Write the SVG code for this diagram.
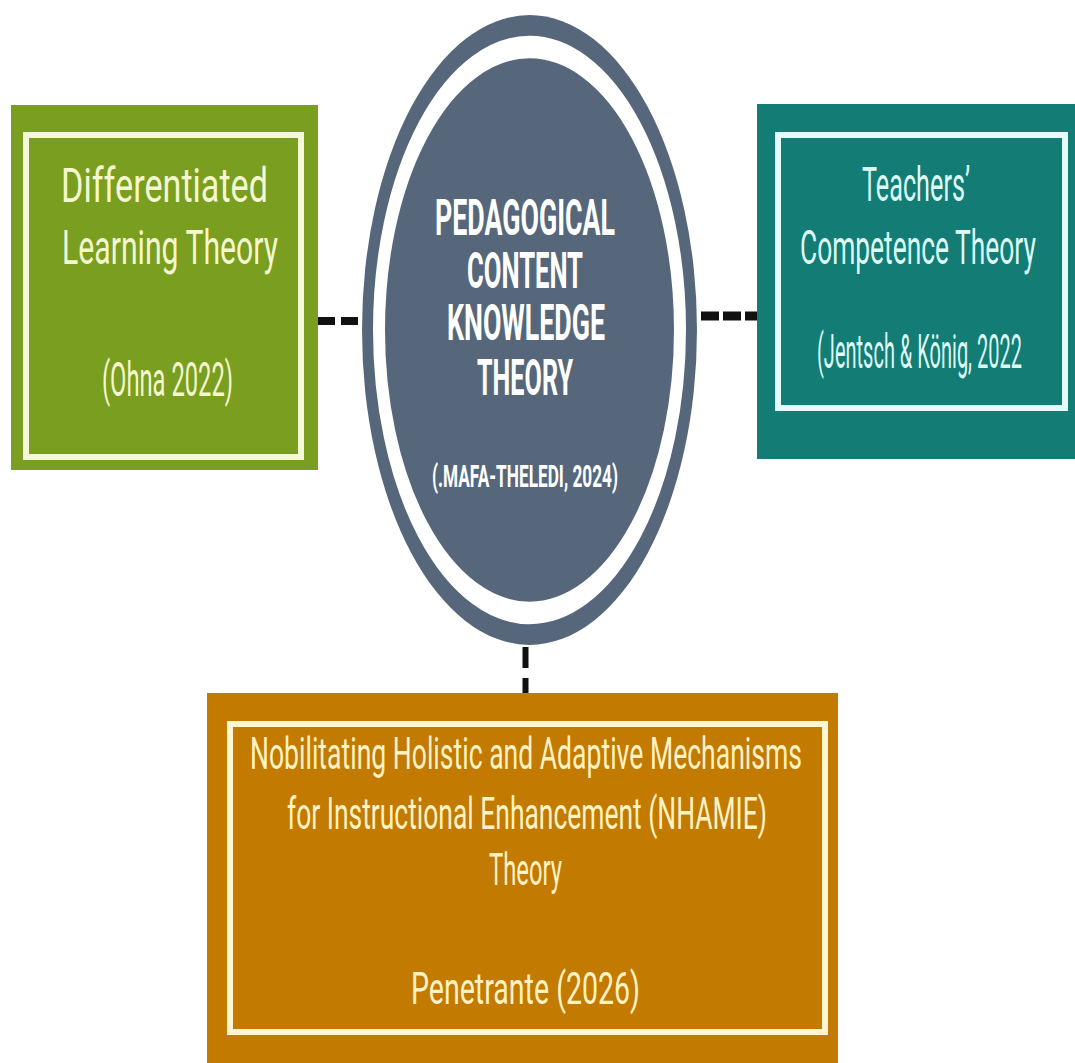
<svg xmlns="http://www.w3.org/2000/svg" width="1075" height="1063" viewBox="0 0 1075 1063">
  <style>
    .lbl { font-family: Roboto, "Liberation Sans", Arial, sans-serif; font-weight: 400; }
    .ttl { font-family: Roboto, "Liberation Sans", Arial, sans-serif; font-weight: 700; fill: #ffffff; }
    .green-t { fill: #F4F7CF; font-size: 31px; }
    .teal-t { fill: #DDFAF7; font-size: 31px; }
    .orange-t { fill: #FFF2C4; font-size: 26px; }
    .big { font-size: 26.5px; }
    .small { font-size: 17px; }
    .dash { stroke: #111111; fill: none; }
  </style>
  <rect width="1075" height="1063" fill="#ffffff"/>

  <g id="connectors">
    <line class="dash" x1="318" y1="321" x2="360" y2="321" stroke-width="8" stroke-dasharray="17 6"/>
    <line class="dash" x1="701" y1="316" x2="757" y2="316" stroke-width="9" stroke-dasharray="18 4"/>
    <line class="dash" x1="525.5" y1="647" x2="525.5" y2="693" stroke-width="6" stroke-dasharray="21 10"/>
  </g>

  <g id="node-differentiated">
    <rect x="11" y="105" width="307" height="365" fill="#7A9E1F"/>
    <rect x="26" y="135" width="275" height="322" fill="none" stroke="#F6F8DA" stroke-width="6"/>
    <text class="lbl green-t" transform="translate(61 202) scale(1 1.54)" textLength="207" lengthAdjust="spacingAndGlyphs">Differentiated</text>
    <text class="lbl green-t" transform="translate(62 264) scale(1 1.54)" textLength="216" lengthAdjust="spacingAndGlyphs">Learning Theory</text>
    <text class="lbl green-t" transform="translate(102 396) scale(1 1.54)" textLength="131" lengthAdjust="spacingAndGlyphs">(Ohna 2022)</text>
  </g>

  <g id="node-pck">
    <g transform="translate(529.5 330) scale(1 1.88)">
      <circle r="167.5" fill="#56677B"/>
      <circle r="150.5" fill="none" stroke="#ffffff" stroke-width="12"/>
    </g>
    <text class="ttl big" transform="translate(435 235) scale(1 1.86)" textLength="180" lengthAdjust="spacingAndGlyphs">PEDAGOGICAL</text>
    <text class="ttl big" transform="translate(467 288) scale(1 1.86)" textLength="116" lengthAdjust="spacingAndGlyphs">CONTENT</text>
    <text class="ttl big" transform="translate(447 340) scale(1 1.86)" textLength="158" lengthAdjust="spacingAndGlyphs">KNOWLEDGE</text>
    <text class="ttl big" transform="translate(477 395) scale(1 1.86)" textLength="96" lengthAdjust="spacingAndGlyphs">THEORY</text>
    <text class="ttl small" transform="translate(432 487) scale(1 1.9)" textLength="186" lengthAdjust="spacingAndGlyphs">(.MAFA-THELEDI, 2024)</text>
  </g>

  <g id="node-teachers">
    <rect x="757" y="104" width="318" height="355" fill="#137C74"/>
    <rect x="778" y="135" width="287" height="273" fill="none" stroke="#E6FCFB" stroke-width="6"/>
    <text class="lbl teal-t" transform="translate(862 201) scale(1 1.54)" textLength="108" lengthAdjust="spacingAndGlyphs">Teachers’</text>
    <text class="lbl teal-t" transform="translate(800 264) scale(1 1.54)" textLength="236" lengthAdjust="spacingAndGlyphs">Competence Theory</text>
    <text class="lbl teal-t" transform="translate(817 368) scale(1 1.54)" textLength="205" lengthAdjust="spacingAndGlyphs">(Jentsch &amp; König, 2022</text>
  </g>

  <g id="node-nhamie">
    <rect x="207" y="693" width="631" height="370" fill="#C27A00"/>
    <rect x="230" y="724" width="595" height="308" fill="none" stroke="#FFF5D0" stroke-width="6"/>
    <text class="lbl orange-t" transform="translate(250 769) scale(1 1.7)" textLength="552" lengthAdjust="spacingAndGlyphs">Nobilitating Holistic and Adaptive Mechanisms</text>
    <text class="lbl orange-t" transform="translate(287 829) scale(1 1.7)" textLength="480" lengthAdjust="spacingAndGlyphs">for Instructional Enhancement (NHAMIE)</text>
    <text class="lbl orange-t" transform="translate(489 885) scale(1 1.7)" textLength="73" lengthAdjust="spacingAndGlyphs">Theory</text>
    <text class="lbl orange-t" transform="translate(411 1004) scale(1 1.7)" textLength="229" lengthAdjust="spacingAndGlyphs">Penetrante (2026)</text>
  </g>
</svg>
